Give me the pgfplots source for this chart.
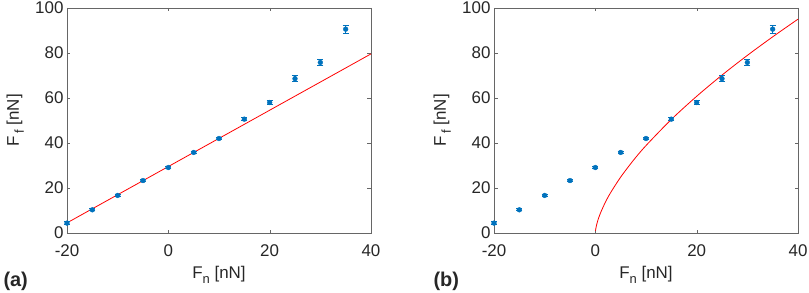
\documentclass[border=0pt]{standalone}
\usepackage{fontspec}
\setmainfont{Liberation Sans}
\usepackage{pgfplots}
\pgfplotsset{compat=1.18}
\definecolor{mblue}{rgb}{0,0.447,0.741}
\newcommand{\sub}[1]{\raisebox{-5bp}{\fontsize{13}{14}\selectfont #1}}
\pgfplotsset{
  myax/.style={
    scale only axis, width=304bp, height=225bp,
    xmin=-20, xmax=40, ymin=0, ymax=100,
    xtick={-20,0,20,40}, ytick={0,20,40,60,80,100},
    tick align=inside, major tick length=3.5bp,
    axis line style={black!60}, tick style={black!60},
    every tick label/.append style={font=\fontsize{17}{19}\selectfont, text=black!85},
    xticklabel style={yshift=-8bp},
    /pgf/number format/assume math mode=true,
    label style={font=\fontsize{17}{19}\selectfont, text=black!85},
    xlabel={F\sub{n} [nN]},
    ylabel={F\,\sub{f} [nN]},
    xlabel style={at={(axis description cs:0.5,-0.185)}, anchor=center},
    ylabel style={at={(axis description cs:-0.17,0.5)}, anchor=center},
    clip=false,
  },
  dat/.style={only marks, mark=*, mark size=2.4bp, color=mblue,
    error bars/.cd, y dir=both, y explicit,
    error bar style={line width=1.2pt, mblue},
    error mark options={rotate=90, mark size=3bp, line width=1pt, mblue}},
}
\pgfplotstableread{
x y e
-20 4.4 0.5
-15 10.3 0.4
-10 16.7 0.5
-5 23.3 0.4
0 29.1 0.6
5 35.8 0.6
10 42.0 0.6
15 50.6 0.8
20 58.0 1.1
25 68.6 1.3
30 75.8 1.4
35 90.6 1.8
}\data
\begin{document}
\begin{tikzpicture}
\useasboundingbox (-67bp,-60bp) rectangle (742bp,233bp);
\begin{axis}[myax, at={(0,0)}, anchor=south west]
\addplot[red, line width=0.8pt] coordinates {(-20,4.5) (40,79.6)};
\addplot[dat] table[x=x, y=y, y error=e] {\data};
\node[font=\bfseries\fontsize{20}{22}\selectfont, text=black!85, anchor=west] at (-67bp,-48bp) {(a)};
\end{axis}
\begin{axis}[myax, at={(427bp,0)}, anchor=south west]
\addplot[red, line width=0.8pt, smooth] coordinates {
(0,1.0) (0.05,1.3) (0.1,2.0) (0.25,3.6) (0.5,5.62) (1,8.8) (2,13.76) (3,17.87)
(5,24.85) (7.5,32.28) (10,38.86) (15,50.48) (20,60.76) (25,70.18) (30,78.94) (35,87.18) (40,95.04)};
\addplot[dat] table[x=x, y=y, y error=e] {\data};
\node[font=\bfseries\fontsize{20}{22}\selectfont, text=black!85, anchor=west] at (-64bp,-48bp) {(b)};
\end{axis}
\end{tikzpicture}
\end{document}
